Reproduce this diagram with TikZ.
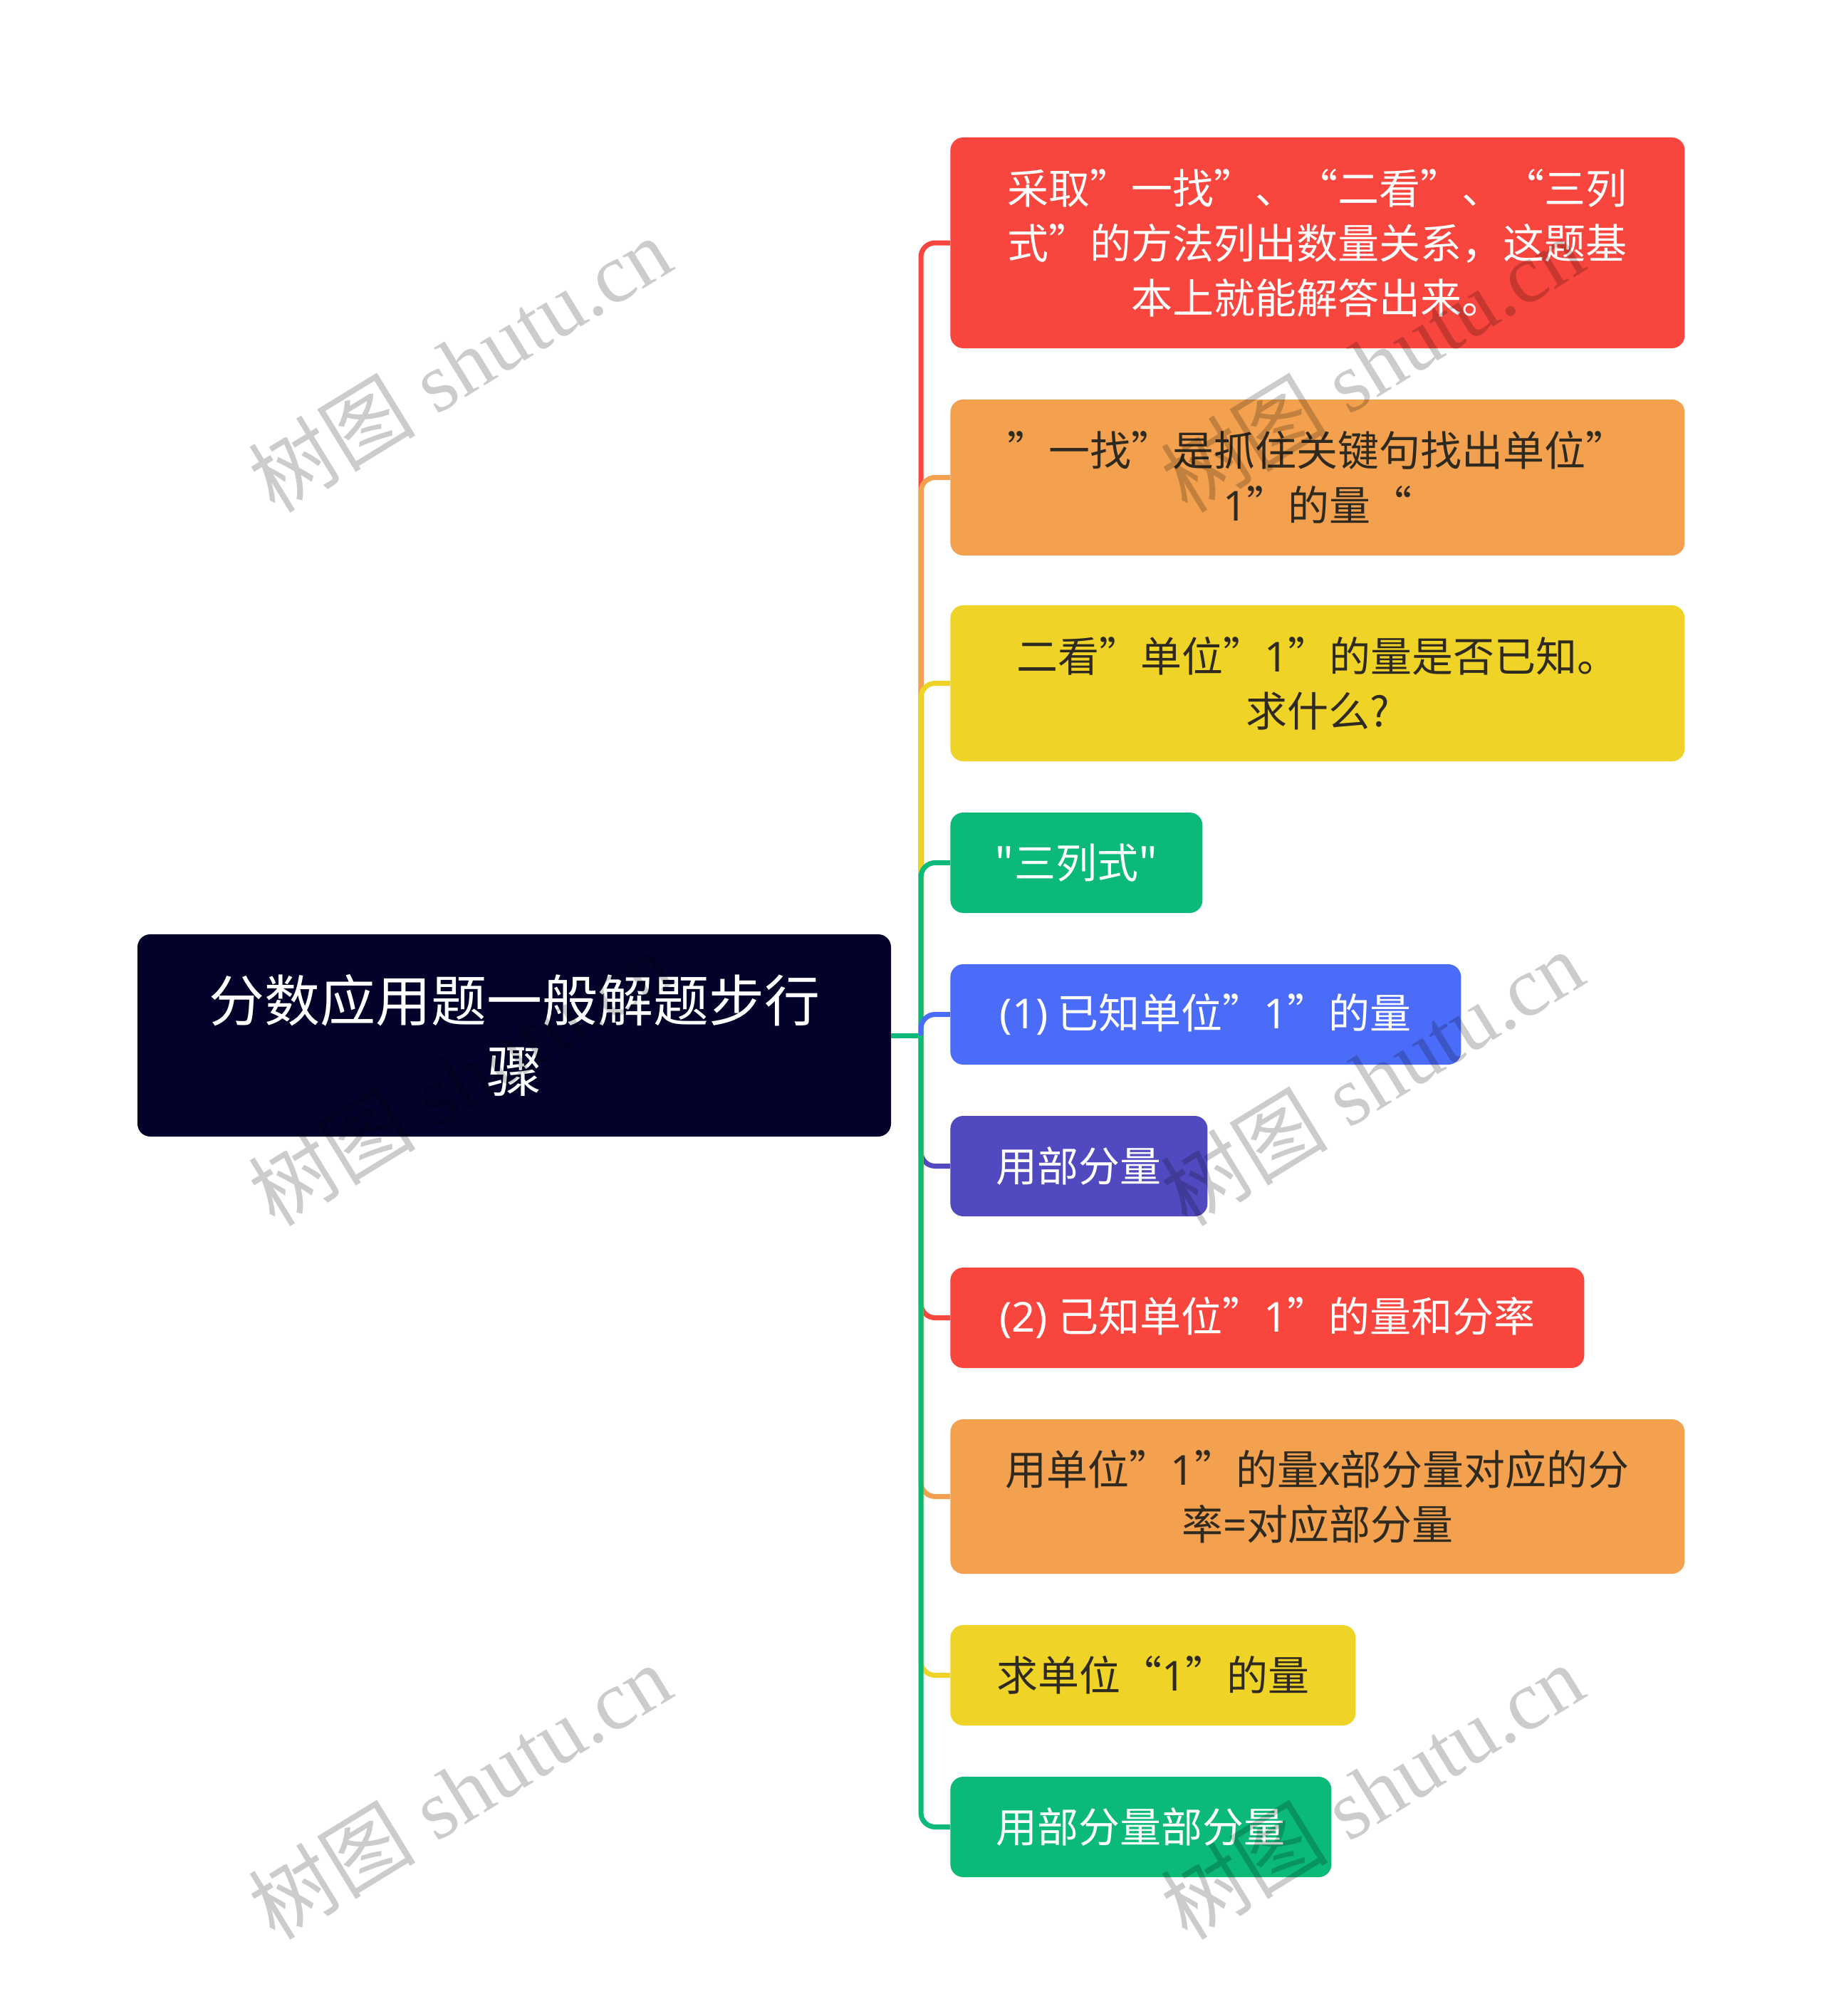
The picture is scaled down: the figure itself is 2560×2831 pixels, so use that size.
\documentclass[tikz,border=0pt]{standalone}
\usepackage{fontspec}
\setmainfont{Noto Sans CJK SC}[Ligatures=TeXOff]
\newfontfamily\lat{Noto Sans}[Ligatures=TeXOff]
\newfontfamily\wmlat{Liberation Serif}
\newfontfamily\wmcjk{Noto Sans CJK SC}
\definecolor{cred}{HTML}{F8453D}
\definecolor{corange}{HTML}{F3A14E}
\definecolor{cyellow}{HTML}{F0D327}
\definecolor{cgreen}{HTML}{0BB978}
\definecolor{cblue}{HTML}{4B6BF9}
\definecolor{cindigo}{HTML}{5049C0}
\definecolor{croot}{HTML}{02022A}
\definecolor{ctext}{HTML}{2F2A20}
\tikzset{
  box/.style={anchor=west, rounded corners=9pt, inner sep=0pt, align=center,
    minimum height=70.5pt, font=\fontsize{29}{38.5}\selectfont},
  conn/.style={line width=3.5pt, rounded corners=10pt},
  wm/.style={text=black, opacity=0.2, rotate=31.5, inner sep=0pt,
    font=\fontsize{59}{64}\wmlat}
}
\begin{document}
\begin{tikzpicture}[x=0.5pt,y=-0.5pt]
\fill[white] (0,0) rectangle (2560,2831);
\useasboundingbox (0,0) rectangle (2560,2831);

% root
\node[rounded corners=9pt, fill=croot, text=white, inner sep=0pt, align=center,
  minimum width=529pt, minimum height=142pt,
  font=\fontsize{39}{49.5}\selectfont] (root) at (722,1454)
  {分数应用题一般解题步行\\骤};
\coordinate (j) at (1293,1454);

% children
\node[box, fill=cred, text=white, minimum width=515.5pt, minimum height=148pt] (c1) at (1334,341)
  {采取”一找”、“二看”、“三列\\式”的方法列出数量关系，这题基\\本上就能解答出来。};
\node[box, fill=corange, text=ctext, minimum width=515.5pt, minimum height=109.5pt] (c2) at (1334,670.5)
  {”一找”是抓住关键句找出单位”\\{\lat 1}”的量“};
\node[box, fill=cyellow, text=ctext, minimum width=515.5pt, minimum height=109.5pt] (c3) at (1334,959.5)
  {二看”单位”{\lat 1}”的量是否已知。\\求什么?};
\node[box, fill=cgreen, text=white, minimum width=177pt] (c4) at (1334,1211.5)
  {"三列式"};
\node[box, fill=cblue, text=white, minimum width=358.5pt] (c5) at (1334,1424.5)
  {{\lat (1)} 已知单位”{\lat 1}”的量};
\node[box, fill=cindigo, text=white, minimum width=180.5pt] (c6) at (1334,1637.5)
  {用部分量};
\node[box, fill=cred, text=white, minimum width=445pt] (c7) at (1334,1850.5)
  {{\lat (2)} 己知单位”{\lat 1}”的量和分率};
\node[box, fill=corange, text=ctext, minimum width=515.5pt, minimum height=108.5pt] (c8) at (1334,2101.5)
  {用单位”{\lat 1}”的量{\lat x}部分量对应的分\\率{\lat =}对应部分量};
\node[box, fill=cyellow, text=ctext, minimum width=284.5pt] (c9) at (1334,2352.5)
  {求单位“{\lat 1}”的量};
\node[box, fill=cgreen, text=white, minimum width=267.5pt] (c10) at (1334,2565.5)
  {用部分量部分量};

% connectors
\draw[conn, cgreen] (root.east) -- (j);
\draw[conn, cred] (j) |- (c1.west);
\draw[conn, corange] (j) |- (c2.west);
\draw[conn, cyellow] (j) |- (c3.west);
\draw[conn, cgreen] (j) |- (c4.west);
\draw[conn, cblue] (j) |- (c5.west);
\draw[conn, cindigo] (j) |- (c6.west);
\draw[conn, cred] (j) |- (c7.west);
\draw[conn, corange] (j) |- (c8.west);
\draw[conn, cyellow] (j) |- (c9.west);
\draw[conn, cgreen] (j) |- (c10.west);

% watermarks
\node[wm] (w1) at (645,511) {{\wmcjk 树图} shutu.cn};
\node[wm] (w2) at (1926,511) {{\wmcjk 树图} shutu.cn};
\node[wm] (w3) at (645,1513) {{\wmcjk 树图} shutu.cn};
\node[wm] (w4) at (1926,1513) {{\wmcjk 树图} shutu.cn};
\node[wm] (w5) at (645,2515) {{\wmcjk 树图} shutu.cn};
\node[wm] (w6) at (1926,2515) {{\wmcjk 树图} shutu.cn};
\end{tikzpicture}
\end{document}
